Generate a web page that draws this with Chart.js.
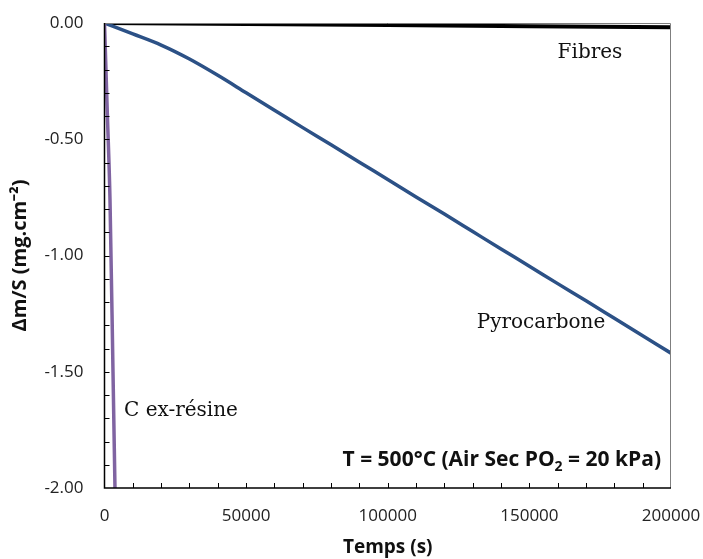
<!DOCTYPE html>
<html>
<head>
<meta charset="utf-8">
<script src="https://cdn.jsdelivr.net/npm/chart.js@4"></script>
<style>
  html, body { margin: 0; padding: 0; background: #fff; }
  #wrap { width: 703px; height: 559px; }
</style>
</head>
<body>
<div id="wrap"><canvas id="myChart" width="703" height="559"></canvas></div>
<script>
// values (time in s, mass change in mg.cm-2)
const timeFibres = [0, 50000, 100000, 150000, 200000];
const massFibres = [0, -0.004, -0.009, -0.014, -0.018];

const timePyro = [0, 10000, 20000, 30000, 40000, 50000, 60000, 70000, 80000, 90000, 100000,
    110000, 120000, 130000, 140000, 150000, 160000, 170000, 180000, 190000, 200000];
const massPyro = [0, -0.047, -0.095, -0.155, -0.225, -0.300, -0.375, -0.450, -0.524, -0.599, -0.673,
    -0.748, -0.822, -0.897, -0.972, -1.046, -1.121, -1.195, -1.270, -1.345, -1.420];

const timeResine = [0, 1000, 1940, 3000, 3700];
const massResine = [0, -0.39, -0.76, -1.50, -2.00];

const xTicks = [0, 50000, 100000, 150000, 200000];
const yTicks = [0, -0.5, -1, -1.5, -2];

// text labels placed at data coordinates
const curveLabels = [
    { text: "Fibres", x: 171400, y: -0.13 },
    { text: "Pyrocarbone", x: 154100, y: -1.29 },
    { text: "C ex-résine", x: 27000, y: -1.67 }
];
const noteText = "T = 500°C (Air Sec PO";

const toPoints = (xs, ys) => xs.map((x, i) => ({ x: x, y: ys[i] }));

const frameAndTicks = {
    id: "frameAndTicks",
    afterDatasetsDraw(chart) {
        const c = chart.ctx;
        const a = chart.chartArea;
        const xs = chart.scales.x;
        const ys = chart.scales.y;
        c.save();
        // plot border
        c.strokeStyle = "#7f7f7f";
        c.lineWidth = 1;
        c.beginPath();
        c.moveTo(a.left, a.top + 0.5);
        c.lineTo(a.right - 0.5, a.top + 0.5);
        c.lineTo(a.right - 0.5, a.bottom);
        c.stroke();
        // axes
        c.strokeStyle = "#000";
        c.lineWidth = 1.5;
        c.beginPath();
        c.moveTo(a.left, a.top);
        c.lineTo(a.left, a.bottom);
        c.lineTo(a.right, a.bottom);
        c.stroke();
        // inside tick marks
        c.lineWidth = 1;
        c.beginPath();
        for (let t = 10000; t < 200000; t += 10000) {
            const px = Math.round(xs.getPixelForValue(t)) + 0.5;
            c.moveTo(px, a.bottom);
            c.lineTo(px, a.bottom - 5);
        }
        for (let k = 1; k < 20; k++) {
            const py = Math.round(ys.getPixelForValue(-k / 10)) + 0.5;
            c.moveTo(a.left, py);
            c.lineTo(a.left + 5, py);
        }
        c.stroke();
        // curve names
        c.fillStyle = "#111";
        c.font = "20px 'DejaVu Serif'";
        c.textAlign = "center";
        c.textBaseline = "middle";
        curveLabels.forEach(l => {
            c.fillText(l.text, xs.getPixelForValue(l.x), ys.getPixelForValue(l.y));
        });
        // note with subscript
        const big = "bold 21px 'Open Sans'";
        const small = "bold 14px 'Open Sans'";
        const part2 = " = 20 kPa)";
        c.textAlign = "left";
        c.textBaseline = "alphabetic";
        c.font = big;
        const w1 = c.measureText(noteText).width;
        const w2 = c.measureText(part2).width;
        c.font = small;
        const wSub = c.measureText("2").width;
        const right = a.right - 10;
        const base = a.bottom - 22;
        const start = right - (w1 + wSub + w2);
        c.font = big;
        c.fillText(noteText, start, base);
        c.fillText(part2, start + w1 + wSub, base);
        c.font = small;
        c.fillText("2", start + w1, base + 5);
        c.restore();
    }
};

const ctx = document.getElementById("myChart").getContext("2d");

const chart = new Chart(ctx, {
    type: "scatter",
    data: {
        datasets: [
            {
                label: "C ex-résine",
                data: toPoints(timeResine, massResine),
                showLine: true,
                borderColor: "#8064A2",
                borderWidth: 3.5,
                pointRadius: 0,
                cubicInterpolationMode: "monotone",
                order: 0
            },
            {
                label: "Pyrocarbone",
                data: toPoints(timePyro, massPyro),
                showLine: true,
                borderColor: "#2C5186",
                borderWidth: 3.5,
                pointRadius: 0,
                cubicInterpolationMode: "monotone",
                order: 1
            },
            {
                label: "Fibres",
                data: toPoints(timeFibres, massFibres),
                showLine: true,
                borderColor: "#000",
                borderWidth: 4,
                pointRadius: 0,
                order: 2
            }
        ]
    },
    options: {
        responsive: false,
        animation: false,
        layout: { padding: { top: 23, right: 32, left: 0, bottom: 0 } },
        plugins: {
            legend: { display: false },
            tooltip: { enabled: false }
        },
        scales: {
            x: {
                type: "linear",
                min: 0,
                max: 200000,
                afterFit: s => {
                    s.height = 71;
                    s.paddingLeft = 0;
                    s.paddingRight = 0;
                },
                afterBuildTicks: s => { s.ticks = xTicks.map(v => ({ value: v })); },
                grid: { display: false, drawTicks: false },
                border: { display: false },
                ticks: {
                    padding: 18,
                    color: "#222",
                    font: { family: "'Open Sans'", size: 17 },
                    callback: v => String(v)
                },
                title: {
                    display: true,
                    text: "Temps (s)",
                    color: "#111",
                    font: { family: "'Open Sans'", size: 19, weight: "bold" },
                    padding: { top: 0, bottom: 0 }
                }
            },
            y: {
                type: "linear",
                min: -2,
                max: 0,
                afterFit: s => {
                    s.width = 104.5;
                    s.paddingTop = 0;
                    s.paddingBottom = 0;
                },
                afterBuildTicks: s => { s.ticks = yTicks.map(v => ({ value: v })); },
                grid: { display: false, drawTicks: false },
                border: { display: false },
                ticks: {
                    padding: 21,
                    color: "#222",
                    font: { family: "'Open Sans'", size: 17 },
                    callback: v => v.toFixed(2)
                },
                title: {
                    display: true,
                    text: "Δm/S (mg.cm⁻²)",
                    color: "#111",
                    font: { family: "'Open Sans'", size: 20, weight: "bold" },
                    padding: { top: 8, bottom: 0 }
                }
            }
        }
    },
    plugins: [frameAndTicks]
});
</script>
</body>
</html>
